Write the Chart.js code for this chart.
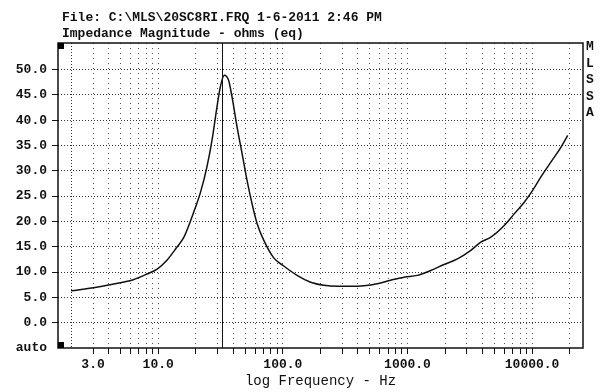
<!DOCTYPE html>
<html lang="en">
<head>
<meta charset="UTF-8">
<title>Impedance Magnitude</title>
<script src="https://cdn.jsdelivr.net/npm/chart.js@4.4.0/dist/chart.umd.min.js"></script>
<style>
  body { margin: 0; background: #fff; }
  canvas { display: block; }
</style>
</head>
<body>
<canvas id="chart" width="600" height="392"></canvas>
<script>
const freqHz = [2, 3.2, 4.1, 6.3, 8.1, 9.8, 11.8, 14.1, 16.0, 18.1, 19.5, 21.8, 24.6, 27.0, 29.6, 31.5,
  33.9, 36.7, 39.1, 42.9, 47.1, 51.6, 56.6, 62.1, 70.2, 84.5, 101.7, 130, 167, 213, 273, 350, 447,
  573, 733, 938, 1201, 1537, 1965, 2517, 3221, 3874, 4667, 5970, 7180, 8645, 10000, 11770, 13330,
  15060, 17060, 19300];
const ohms = [6.3, 7.0, 7.5, 8.5, 9.6, 10.6, 12.4, 14.9, 16.8, 20.0, 22.2, 25.7, 30.8, 36.0, 42.6, 46.6,
  48.9, 47.9, 44.6, 38.7, 33.4, 28.1, 23.5, 19.6, 16.3, 12.8, 11.2, 9.35, 8.0, 7.4, 7.2, 7.2, 7.3,
  7.7, 8.4, 9.0, 9.35, 10.3, 11.5, 12.6, 14.3, 15.9, 16.9, 19.2, 21.5, 23.8, 26.0, 28.8, 30.8,
  32.7, 34.7, 37.0];

const xTickValues = [3, 10, 100, 1000, 10000];
const xTickLabels = ['3.0', '10.0', '100.0', '1000.0', '10000.0'];
const yTickValues = [-5, 0, 5, 10, 15, 20, 25, 30, 35, 40, 45, 50];
const yTickLabels = ['auto', '0.0', '5.0', '10.0', '15.0', '20.0', '25.0', '30.0', '35.0', '40.0', '45.0', '50.0'];

const startHz = 2;      // dense dotted line where the sweep starts
const cursorHz = 32.7;  // solid cursor line
const titleLines = ['File: C:\\MLS\\20SC8RI.FRQ 1-6-2011 2:46 PM', 'Impedance Magnitude - ohms (eq)'];
const sideLetters = ['M', 'L', 'S', 'S', 'A'];

const mono = '"Liberation Mono", "DejaVu Sans Mono", monospace';

function isGridHz(v) {
  if (v < 2.5 || v > 20001) return false;
  const p = Math.pow(10, Math.floor(Math.log10(v) + 1e-9));
  const m = v / p;
  return Math.abs(m - Math.round(m)) < 1e-6;
}

const frame = {
  id: 'frame',
  beforeDatasetsDraw(chart) {
    const { ctx, chartArea: a, scales: { x } } = chart;
    const px = Math.round(x.getPixelForValue(startHz)) + 0.5;
    ctx.save();
    ctx.strokeStyle = '#333';
    ctx.lineWidth = 1;
    ctx.setLineDash([1, 2]);
    ctx.beginPath();
    ctx.moveTo(px, a.top);
    ctx.lineTo(px, a.bottom);
    ctx.stroke();
    ctx.restore();
  },
  afterDraw(chart) {
    const { ctx, chartArea: a, scales: { x } } = chart;
    ctx.save();
    // cursor
    const cx = Math.round(x.getPixelForValue(cursorHz)) + 0.5;
    ctx.strokeStyle = '#111';
    ctx.lineWidth = 1;
    ctx.beginPath();
    ctx.moveTo(cx, a.top);
    ctx.lineTo(cx, a.bottom);
    ctx.stroke();
    // frame
    ctx.lineWidth = 1.5;
    ctx.strokeRect(a.left, a.top, a.right - a.left, a.bottom - a.top);
    // corner markers
    ctx.fillStyle = '#000';
    ctx.fillRect(a.left, a.top, 6, 6);
    ctx.fillRect(a.left, a.bottom - 6, 6, 6);
    // header text
    ctx.font = 'bold 13px ' + mono;
    ctx.textAlign = 'left';
    ctx.textBaseline = 'alphabetic';
    ctx.fillStyle = '#111';
    ctx.fillText(titleLines[0], 62, 21);
    ctx.fillText(titleLines[1], 62, 37);
    ctx.textAlign = 'center';
    ctx.textBaseline = 'middle';
    sideLetters.forEach((ch, i) => ctx.fillText(ch, 590, 47 + i * 16.5));
    ctx.restore();
  }
};

const ctx = document.getElementById('chart').getContext('2d');
new Chart(ctx, {
  type: 'line',
  data: {
    datasets: [{
      data: freqHz.map((f, i) => ({ x: f, y: ohms[i] })),
      borderColor: '#111',
      borderWidth: 1.5,
      pointRadius: 0,
      cubicInterpolationMode: 'monotone',
      fill: false
    }]
  },
  options: {
    responsive: false,
    animation: false,
    layout: { padding: { top: 43, right: 17, left: 0, bottom: 0 } },
    plugins: { legend: { display: false }, tooltip: { enabled: false } },
    scales: {
      x: {
        type: 'logarithmic',
        min: 1.57,
        max: 25600,
        afterFit: (scale) => { scale.height = 44; },
        border: { display: false, dash: [1, 4] },
        grid: {
          color: (c) => (c.tick && isGridHz(c.tick.value) ? '#555' : 'rgba(0,0,0,0)'),
          tickColor: (c) => (c.tick && isGridHz(c.tick.value) ? '#111' : 'rgba(0,0,0,0)'),
          tickLength: 6,
          lineWidth: 1
        },
        ticks: {
          autoSkip: false,
          maxRotation: 0,
          minRotation: 0,
          padding: 3,
          color: '#111',
          font: { family: mono, size: 13, weight: 'bold' },
          callback: (v) => {
            const i = xTickValues.findIndex((t) => Math.abs(t - v) < 1e-6);
            return i >= 0 ? xTickLabels[i] : '';
          }
        },
        title: {
          display: true,
          text: 'log Frequency - Hz',
          color: '#111',
          padding: { top: 0, bottom: 2 },
          font: { family: mono, size: 14 }
        }
      },
      y: {
        min: -5,
        max: 55.26,
        afterFit: (scale) => { scale.width = 58; },
        afterBuildTicks: (scale) => { scale.ticks = yTickValues.map((v) => ({ value: v })); },
        border: { display: false, dash: [1, 2] },
        grid: {
          color: (c) => (c.tick && c.tick.value >= 0 ? '#333' : 'rgba(0,0,0,0)'),
          tickColor: (c) => (c.tick && c.tick.value >= 0 ? '#111' : 'rgba(0,0,0,0)'),
          tickLength: 6,
          lineWidth: 1
        },
        ticks: {
          padding: 5,
          color: '#111',
          font: { family: mono, size: 13, weight: 'bold' },
          callback: (v) => {
            const i = yTickValues.indexOf(v);
            return i >= 0 ? yTickLabels[i] : '';
          }
        }
      }
    }
  },
  plugins: [frame]
});
</script>
</body>
</html>
